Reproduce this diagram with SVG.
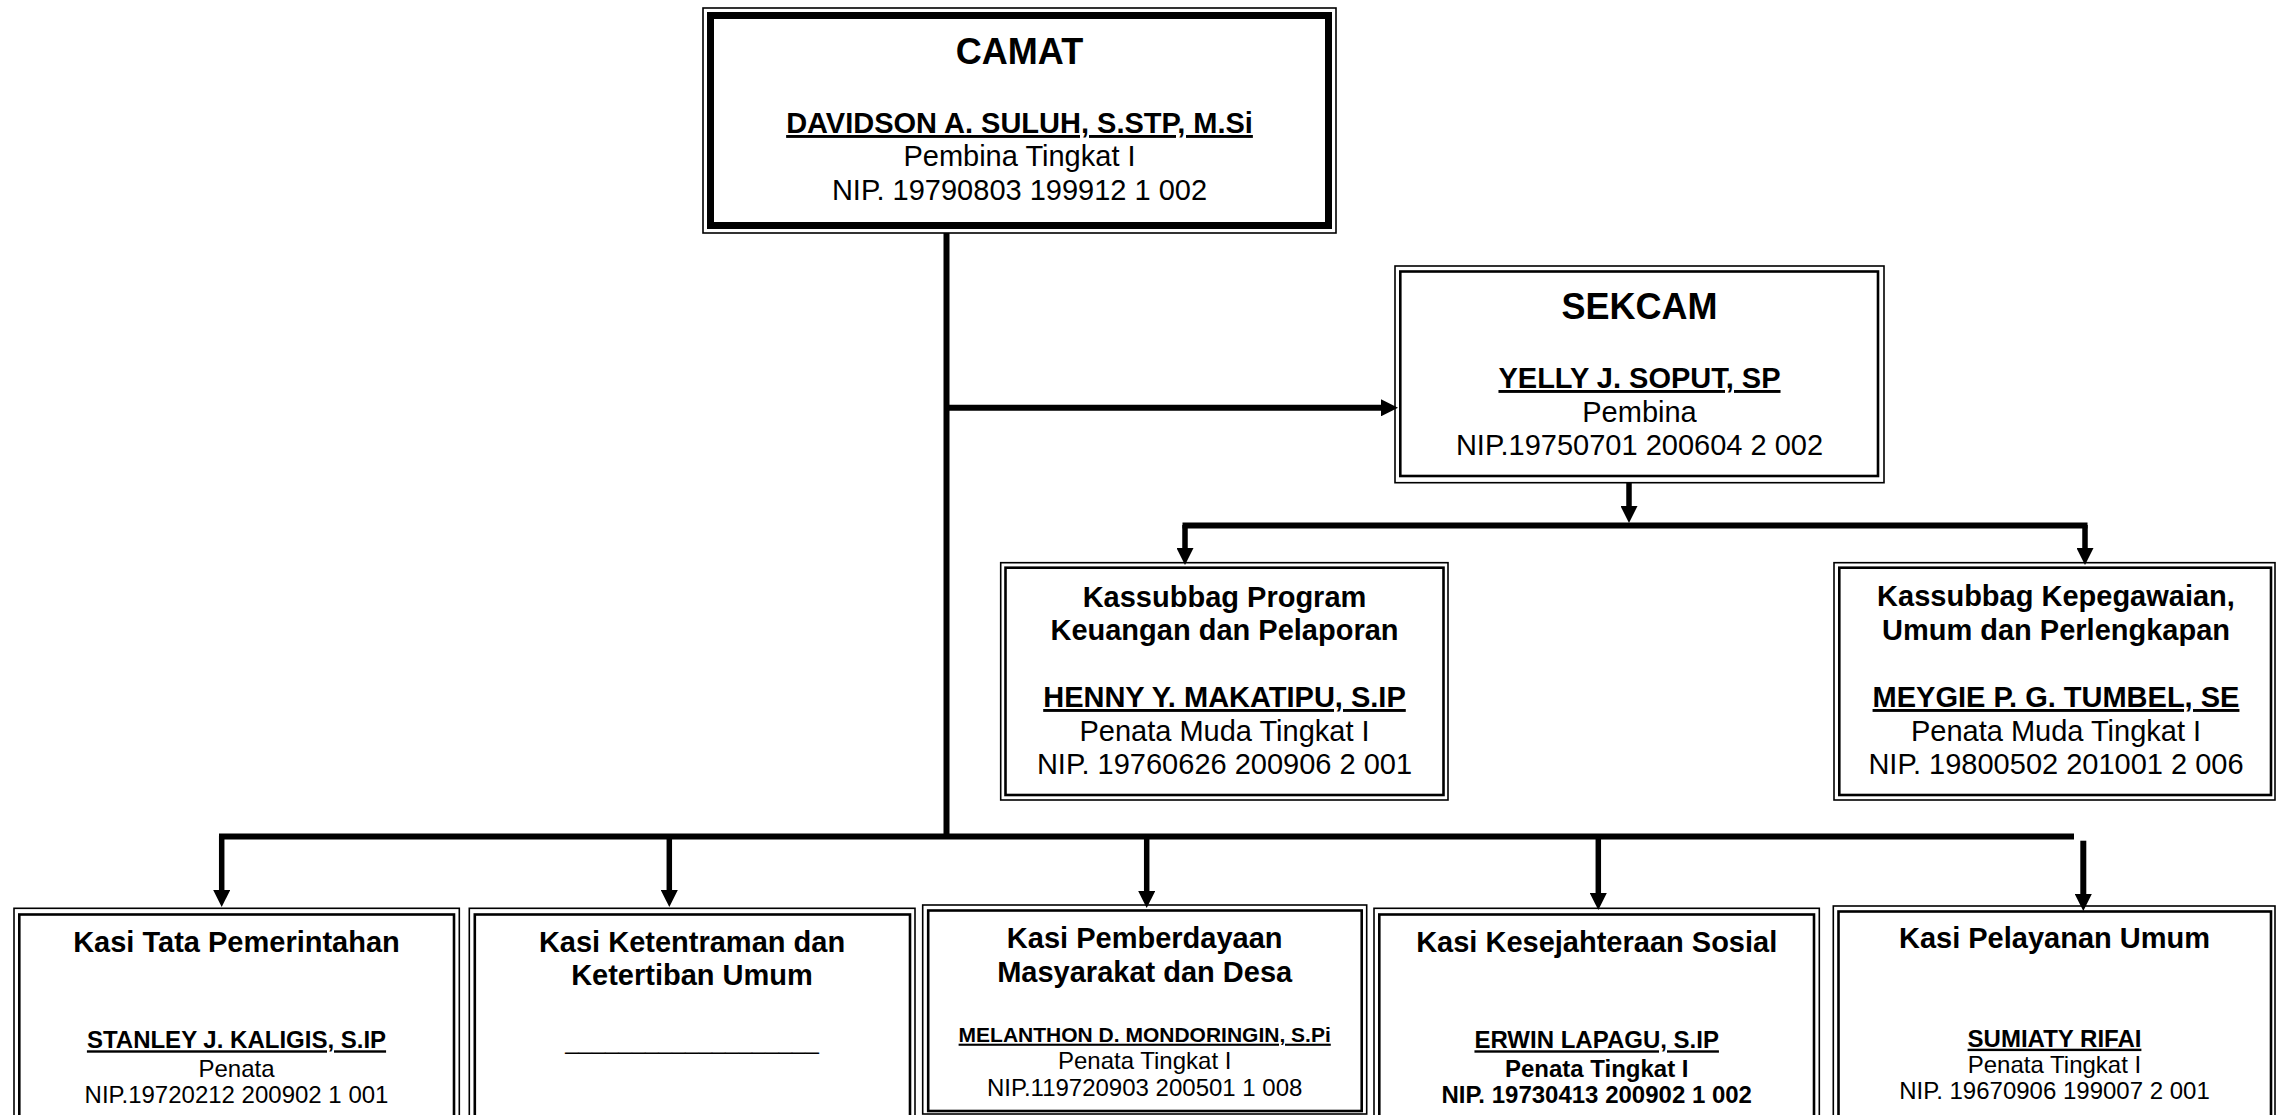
<svg xmlns="http://www.w3.org/2000/svg" width="2276" height="1115" viewBox="0 0 2276 1115">
<style>
.o{fill:none;stroke:#000;stroke-width:1.6}
.i{fill:none;stroke:#000;stroke-width:2.6}
.th{fill:none;stroke:#000;stroke-width:7}
text{font-family:"Liberation Sans",Arial,Helvetica,sans-serif;text-anchor:middle;fill:#000}
.h{font-size:36px;font-weight:bold}
.k{font-size:29px;font-weight:bold}
.r{font-size:29px}
.sb{font-size:24px;font-weight:bold}
.s{font-size:24px}
.nm{font-size:21px;font-weight:bold}
.u{text-decoration:underline}
.ln{stroke:#000;stroke-width:6;fill:none}
.st{stroke:#000;stroke-width:5.5;fill:none}
</style>
<defs>
<marker id="ah" viewBox="0 0 17 17" refX="0" refY="8.5" markerWidth="17" markerHeight="17" markerUnits="userSpaceOnUse" orient="auto">
<path d="M0,0 L17,8.5 L0,17 z" fill="#000"/>
</marker>
</defs>
<rect width="2276" height="1115" fill="#fff"/>

<g id="connectors">
<line class="ln" x1="946.5" y1="233" x2="946.5" y2="839"/>
<line class="ln" x1="946.5" y1="407.8" x2="1381" y2="407.8" marker-end="url(#ah)"/>
<line class="st" x1="1629" y1="483" x2="1629" y2="506" marker-end="url(#ah)"/>
<line class="ln" x1="1182.5" y1="525.5" x2="2087.5" y2="525.5"/>
<line class="st" x1="1185" y1="525" x2="1185" y2="548" marker-end="url(#ah)"/>
<line class="st" x1="2085" y1="525" x2="2085" y2="548" marker-end="url(#ah)"/>
<line class="ln" x1="219" y1="836.5" x2="2074" y2="836.5"/>
<line class="st" x1="221.7" y1="836" x2="221.7" y2="890" marker-end="url(#ah)"/>
<line class="st" x1="669.3" y1="836" x2="669.3" y2="890" marker-end="url(#ah)"/>
<line class="st" x1="1146.7" y1="836" x2="1146.7" y2="891" marker-end="url(#ah)"/>
<line class="st" x1="1598.3" y1="836" x2="1598.3" y2="893" marker-end="url(#ah)"/>
<line class="ln" x1="2083.3" y1="840.7" x2="2083.3" y2="894" marker-end="url(#ah)"/>
</g>

<g id="camat">
<rect class="o" x="703" y="8" width="633" height="225"/>
<rect class="th" x="710.5" y="15.5" width="618" height="210"/>
<text class="h" x="1019.5" y="64">CAMAT</text>
<text class="k u" x="1019.5" y="133">DAVIDSON A. SULUH, S.STP, M.Si</text>
<text class="r" x="1019.5" y="166">Pembina Tingkat I</text>
<text class="r" x="1019.5" y="199.5">NIP. 19790803 199912 1 002</text>
</g>

<g id="sekcam">
<rect class="o" x="1395" y="266" width="489" height="216.7"/>
<rect class="i" x="1400.3" y="271.5" width="477.7" height="204.5"/>
<text class="h" x="1639.5" y="318.5">SEKCAM</text>
<text class="k u" x="1639.5" y="388">YELLY J. SOPUT, SP</text>
<text class="r" x="1639.5" y="422">Pembina</text>
<text class="r" x="1639.5" y="455">NIP.19750701 200604 2 002</text>
</g>

<g id="kassubbag-program">
<rect class="o" x="1000.7" y="562.7" width="447.3" height="237.3"/>
<rect class="i" x="1005.5" y="567.7" width="438" height="227.3"/>
<text class="k" x="1224.5" y="606.5">Kassubbag Program</text>
<text class="k" x="1224.5" y="640">Keuangan dan Pelaporan</text>
<text class="k u" x="1224.5" y="707">HENNY Y. MAKATIPU, S.IP</text>
<text class="r" x="1224.5" y="740.5">Penata Muda Tingkat I</text>
<text class="r" x="1224.5" y="774">NIP. 19760626 200906 2 001</text>
</g>

<g id="kassubbag-kepegawaian">
<rect class="o" x="1834" y="562.7" width="441" height="237.3"/>
<rect class="i" x="1839.3" y="567.7" width="431.7" height="227.3"/>
<text class="k" x="2056" y="606">Kassubbag Kepegawaian,</text>
<text class="k" x="2056" y="639.5">Umum dan Perlengkapan</text>
<text class="k u" x="2056" y="707">MEYGIE P. G. TUMBEL, SE</text>
<text class="r" x="2056" y="740.5">Penata Muda Tingkat I</text>
<text class="r" x="2056" y="773.5">NIP. 19800502 201001 2 006</text>
</g>

<g id="kasi-tata-pemerintahan">
<rect class="o" x="14" y="908.3" width="445.3" height="230"/>
<rect class="i" x="19.3" y="914.5" width="434.7" height="230"/>
<text class="k" x="236.5" y="951.7">Kasi Tata Pemerintahan</text>
<text class="sb u" x="236.5" y="1048.3">STANLEY J. KALIGIS, S.IP</text>
<text class="s" x="236.5" y="1076.7">Penata</text>
<text class="s" x="236.5" y="1103">NIP.19720212 200902 1 001</text>
</g>

<g id="kasi-ketentraman">
<rect class="o" x="469.3" y="908.3" width="445.7" height="230"/>
<rect class="i" x="474.8" y="914.5" width="435.2" height="230"/>
<text class="k" x="692" y="951.7">Kasi Ketentraman dan</text>
<text class="k" x="692" y="985">Ketertiban Umum</text>
<text class="s" x="692" y="1048.5">___________________</text>
</g>

<g id="kasi-pemberdayaan">
<rect class="o" x="922.7" y="905" width="444" height="209"/>
<rect class="i" x="928.2" y="910.5" width="433.5" height="200.5"/>
<text class="k" x="1144.7" y="948.3">Kasi Pemberdayaan</text>
<text class="k" x="1144.7" y="981.7">Masyarakat dan Desa</text>
<text class="nm u" x="1144.7" y="1041.7">MELANTHON D. MONDORINGIN, S.Pi</text>
<text class="s" x="1144.7" y="1069.3">Penata Tingkat I</text>
<text class="s" x="1144.7" y="1096">NIP.119720903 200501 1 008</text>
</g>

<g id="kasi-kesejahteraan">
<rect class="o" x="1374" y="908.3" width="445.3" height="230"/>
<rect class="i" x="1379.3" y="914.5" width="434.7" height="230"/>
<text class="k" x="1596.7" y="951.7">Kasi Kesejahteraan Sosial</text>
<text class="sb u" x="1596.7" y="1048.3">ERWIN LAPAGU, S.IP</text>
<text class="sb" x="1596.7" y="1076.7">Penata Tingkat I</text>
<text class="sb" x="1596.7" y="1103.3">NIP. 19730413 200902 1 002</text>
</g>

<g id="kasi-pelayanan">
<rect class="o" x="1833.3" y="906" width="441.7" height="230"/>
<rect class="i" x="1838.5" y="911.5" width="432.5" height="230"/>
<text class="k" x="2054.5" y="948.3">Kasi Pelayanan Umum</text>
<text class="sb u" x="2054.5" y="1046.7">SUMIATY RIFAI</text>
<text class="s" x="2054.5" y="1072.7">Penata Tingkat I</text>
<text class="s" x="2054.5" y="1099.3">NIP. 19670906 199007 2 001</text>
</g>
</svg>
